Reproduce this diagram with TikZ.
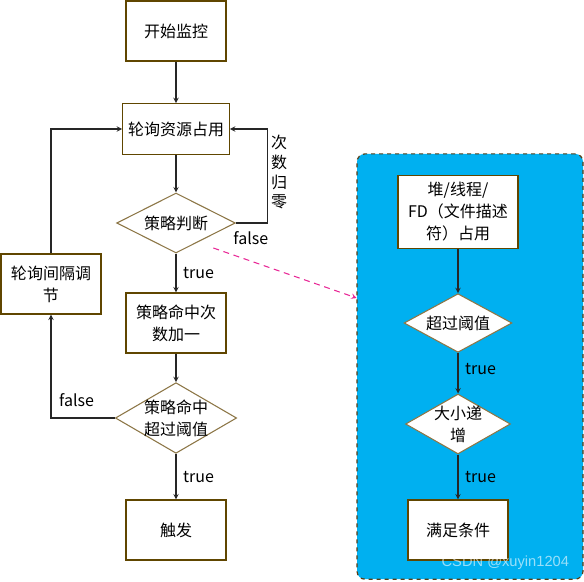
\documentclass[tikz,border=0pt]{standalone}
\usepackage{fontspec}
\setmainfont{Noto Sans CJK SC}
\newfontfamily\markfont{Liberation Sans}
\usepackage{tikz}
\usetikzlibrary{shapes,arrows}
\usetikzlibrary{positioning}
\definecolor{boxedge}{RGB}{96,70,0}
\definecolor{diaedge}{RGB}{140,118,70}
\definecolor{panelblue}{RGB}{0,176,240}
\definecolor{paneledge}{RGB}{90,62,20}
\definecolor{linkpink}{RGB}{232,40,150}
\tikzstyle{arrow} = [thick,->,>=stealth,draw=black!85]
\tikzstyle{link} = [thick,->,>=stealth,draw=linkpink,dash pattern=on 4.5pt off 3.5pt]
\tikzstyle{stepbox} = [
    rectangle, minimum width=75pt, minimum height=45pt, align=center,
    draw=boxedge, fill=white, line width=0.9pt, inner sep=2pt]
\tikzstyle{decision} = [
    diamond, aspect=1.75, align=center, draw=diaedge, fill=white,
    line width=0.8pt, inner sep=-1pt]
\tikzstyle{tag} = [inner sep=2pt, font=\fontsize{12pt}{14pt}\selectfont]

\begin{document}
\begin{tikzpicture}[node distance=73.5pt,
    every node/.style={font=\fontsize{12pt}{16.5pt}\selectfont}]
\useasboundingbox (0,0) rectangle (438pt,-435.75pt);

% blue group on the right
\node (panel) [rectangle, rounded corners=6pt, draw=paneledge, fill=panelblue,
    dashed, line width=0.9pt, minimum width=169.5pt, minimum height=319pt]
    at (352.5pt,-274.9pt) {};

% main flow
\node (start) [stepbox] at (132pt,-23.25pt) {开始监控};
\node (poll) [stepbox, minimum width=80pt, minimum height=38pt, below of=start] {轮询资源占用};
\node (judge) [decision, minimum width=89pt, minimum height=45pt, node distance=70.5pt, below of=poll] {策略判断};
\node (count) [stepbox, node distance=75pt, below of=judge] {策略命中次\\数加一};
\node (hit) [decision, minimum width=89pt, minimum height=53pt, node distance=71.25pt, below of=count] {策略命中\\超过阈值};
\node (fire) [stepbox, node distance=84pt, below of=hit] {触发};
\node (adjust) [stepbox] at (38.25pt,-213pt) {轮询间隔调\\节};

% inside the group
\node (heap) [stepbox, minimum width=90pt, minimum height=55pt] at (343.5pt,-159pt) {堆/线程/\\FD（文件描述\\符）占用};
\node (thresh) [decision, minimum width=81pt, minimum height=44pt, node distance=83.25pt, below of=heap] {超过阈值};
\node (grow) [decision, minimum width=75pt, minimum height=43.5pt, node distance=75.75pt, below of=thresh] {大小递\\增};
\node (cond) [stepbox, node distance=79.5pt, below of=grow] {满足条件};

\draw [arrow] (start) -- (poll);
\draw [arrow] (poll) -- (judge);
\draw [arrow] (judge.east) -- ++(24pt,0) |- (poll.east)
    node[pos=0.27, anchor=west, inner sep=2pt, align=center,
         font=\fontsize{12pt}{14.8pt}\selectfont] {次\\数\\归\\零};
\node [tag, anchor=north west] at ([xshift=-4pt,yshift=-4pt]judge.east) {false};
\draw [arrow] (judge) -- node[tag, right=3pt] {true} (count);
\draw [arrow] (count) -- (hit);
\draw [arrow] (hit.west) -| node[tag, pos=0.3, above=6pt] {false} (adjust.south);
\draw [arrow] (adjust.north) |- (poll.west);
\draw [arrow] (hit) -- node[tag, right=3pt] {true} (fire);

\draw [arrow] (heap) -- (thresh);
\draw [arrow] (thresh) -- node[tag, right=3pt, pos=0.4] {true} (grow);
\draw [arrow] (grow) -- node[tag, right=3pt] {true} (cond);

% dashed link to the group
\coordinate (linkfrom) at (160pt,-186pt);
\coordinate (linkto) at (267.5pt,-223.5pt);
\draw [link] (linkfrom) -- (linkto);

\node (mark) [text=white, opacity=0.6, font=\markfont\fontsize{11pt}{13pt}\selectfont]
    at (379pt,-422pt) {CSDN @xuyin1204};
\end{tikzpicture}
\end{document}
